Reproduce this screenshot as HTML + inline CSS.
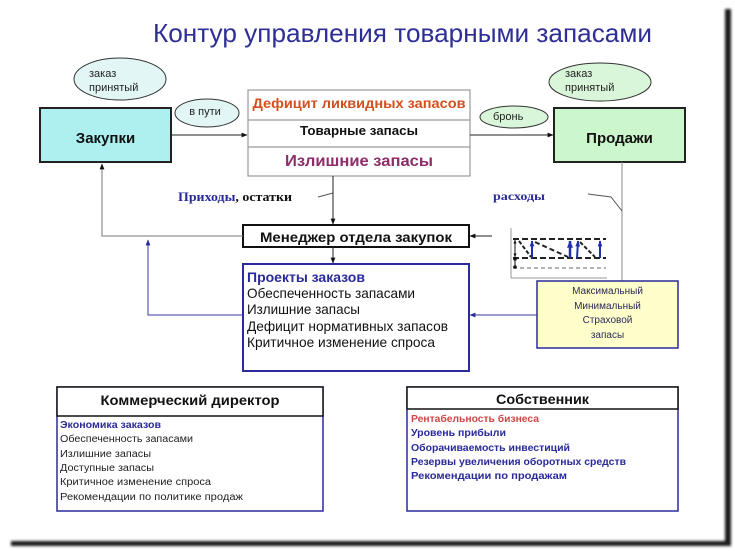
<!DOCTYPE html>
<html><head><meta charset="utf-8">
<style>
html,body{margin:0;padding:0;background:#fff;}
svg{display:block;}
text{font-family:"Liberation Sans","DejaVu Sans",sans-serif;}
.serif{font-family:"Liberation Serif","DejaVu Serif",serif;}
</style></head>
<body>
<svg width="735" height="551" viewBox="0 0 735 551" xmlns="http://www.w3.org/2000/svg">
<defs>
<filter id="bl" x="-50%" y="-50%" width="200%" height="200%"><feGaussianBlur stdDeviation="1.2"/></filter>
<marker id="ah" viewBox="0 0 10 10" refX="9" refY="5" markerWidth="6" markerHeight="6" orient="auto"><path d="M0,1 L10,5 L0,9 z" fill="#111"/></marker>
<marker id="ahb" viewBox="0 0 10 10" refX="9" refY="5" markerWidth="6" markerHeight="6" orient="auto"><path d="M0,1 L10,5 L0,9 z" fill="#2a2a9a"/></marker>
<marker id="ahs" viewBox="0 0 10 10" refX="9" refY="5" markerWidth="3" markerHeight="3" orient="auto"><path d="M0,1 L10,5 L0,9 z" fill="#2030b0"/></marker>
<marker id="ahk" viewBox="0 0 10 10" refX="9" refY="5" markerWidth="4" markerHeight="4" orient="auto"><path d="M0,1 L10,5 L0,9 z" fill="#111"/></marker>
</defs>
<rect width="735" height="551" fill="#fff"/>

<!-- frame shadow -->
<g filter="url(#bl)">
<rect x="725" y="9" width="6" height="537" fill="#1a1a1a"/>
<rect x="11" y="541" width="719" height="5" fill="#1a1a1a"/>
</g>

<!-- Title -->
<text x="153" y="42" font-size="26" fill="#2e2e96" textLength="499" lengthAdjust="spacingAndGlyphs">Контур управления товарными запасами</text>

<!-- Left ellipse -->
<ellipse cx="120" cy="79" rx="46" ry="21" fill="#e2f6f6" stroke="#333" stroke-width="1"/>
<text x="89" y="77" font-size="11" fill="#222">заказ</text>
<text x="89" y="91" font-size="11" fill="#222">принятый</text>

<!-- Закупки -->
<rect x="40" y="108" width="131" height="54" fill="#aef0f0" stroke="#222" stroke-width="2"/>
<text x="105.5" y="143" font-size="15" font-weight="bold" text-anchor="middle" fill="#111">Закупки</text>

<!-- в пути -->
<ellipse cx="207" cy="113" rx="32" ry="14" fill="#e2f6f6" stroke="#333" stroke-width="1"/>
<text x="205" y="115" font-size="11" text-anchor="middle" fill="#222">в пути</text>

<!-- arrow Закупки -> table -->
<line x1="171" y1="135" x2="247" y2="135" stroke="#222" stroke-width="1" marker-end="url(#ah)"/>

<!-- Table -->
<rect x="248" y="90" width="222" height="86" fill="#fff" stroke="#999" stroke-width="1.2"/>
<line x1="248" y1="120" x2="470" y2="120" stroke="#999" stroke-width="1.2"/>
<line x1="248" y1="147" x2="470" y2="147" stroke="#999" stroke-width="1.2"/>
<text x="359" y="108" font-size="14" font-weight="bold" text-anchor="middle" fill="#d25020" textLength="213" lengthAdjust="spacingAndGlyphs">Дефицит ликвидных запасов</text>
<text x="359" y="135" font-size="13" font-weight="bold" text-anchor="middle" fill="#111" textLength="118" lengthAdjust="spacingAndGlyphs">Товарные запасы</text>
<text x="359" y="166" font-size="16" font-weight="bold" text-anchor="middle" fill="#8e2d6a" textLength="148" lengthAdjust="spacingAndGlyphs">Излишние запасы</text>

<!-- arrow table -> Продажи -->
<line x1="470" y1="135" x2="553" y2="135" stroke="#222" stroke-width="1" marker-end="url(#ah)"/>

<!-- Right ellipse -->
<ellipse cx="600" cy="82" rx="51" ry="19" fill="#daf6da" stroke="#333" stroke-width="1"/>
<text x="565" y="77" font-size="11" fill="#222">заказ</text>
<text x="565" y="91" font-size="11" fill="#222">принятый</text>

<!-- бронь -->
<ellipse cx="514" cy="117" rx="34" ry="11" fill="#daf6da" stroke="#333" stroke-width="1"/>
<text x="493" y="120" font-size="11" fill="#222">бронь</text>

<!-- Продажи -->
<rect x="554" y="108" width="131" height="54" fill="#ccf6cc" stroke="#222" stroke-width="2"/>
<text x="619.5" y="143" font-size="15" font-weight="bold" text-anchor="middle" fill="#111">Продажи</text>

<!-- vertical line from Продажи -->
<line x1="622" y1="162" x2="622" y2="281" stroke="#888" stroke-width="1"/>
<polyline points="588,194 611,197 622,211" fill="none" stroke="#555" stroke-width="1"/>
<text x="493" y="200" font-size="12" font-weight="bold" fill="#2a2a9a" class="serif" textLength="52" lengthAdjust="spacingAndGlyphs">расходы</text>

<!-- Приходы -->
<text x="178" y="201" font-size="13" font-weight="bold" class="serif" fill="#2a2a9a" textLength="114" lengthAdjust="spacingAndGlyphs">Приходы<tspan fill="#111">, остатки</tspan></text>
<polyline points="318,197 333,193" fill="none" stroke="#555" stroke-width="1"/>

<!-- vertical from table to Менеджер -->
<line x1="333" y1="176" x2="333" y2="224" stroke="#222" stroke-width="1" marker-end="url(#ah)"/>

<!-- Менеджер -->
<rect x="243" y="225" width="226" height="22" fill="#fff" stroke="#111" stroke-width="2"/>
<text x="356" y="242" font-size="14" font-weight="bold" text-anchor="middle" fill="#111" textLength="192" lengthAdjust="spacingAndGlyphs">Менеджер отдела закупок</text>

<!-- gray feedback line to Закупки -->
<polyline points="243,236 102,236 102,164" fill="none" stroke="#777" stroke-width="1" marker-end="url(#ah)"/>

<!-- arrow Менеджер -> Проекты -->
<line x1="333" y1="247" x2="333" y2="263" stroke="#222" stroke-width="1" marker-end="url(#ah)"/>

<!-- Проекты -->
<rect x="243" y="264" width="226" height="107" fill="#fff" stroke="#2a2a9a" stroke-width="2"/>
<text x="247" y="282" font-size="14" font-weight="bold" fill="#2a2a9a">Проекты заказов</text>
<text x="247" y="298" font-size="14" fill="#111" textLength="168" lengthAdjust="spacingAndGlyphs">Обеспеченность запасами</text>
<text x="247" y="314" font-size="14" fill="#111" textLength="113" lengthAdjust="spacingAndGlyphs">Излишние запасы</text>
<text x="247" y="331" font-size="14" fill="#111" textLength="201" lengthAdjust="spacingAndGlyphs">Дефицит нормативных запасов</text>
<text x="247" y="347" font-size="14" fill="#111" textLength="188" lengthAdjust="spacingAndGlyphs">Критичное изменение спроса</text>

<!-- blue feedback line -->
<polyline points="243,315 148,315 148,240" fill="none" stroke="#3a3aa0" stroke-width="1" marker-end="url(#ahb)"/>

<!-- chart icon -->
<g>
<line x1="511" y1="228" x2="511" y2="278" stroke="#999" stroke-width="1"/>
<line x1="511" y1="278" x2="607" y2="278" stroke="#999" stroke-width="1"/>
<line x1="513" y1="239" x2="606" y2="239" stroke="#222" stroke-width="2" stroke-dasharray="6,3"/>
<line x1="513" y1="258" x2="606" y2="258" stroke="#222" stroke-width="2" stroke-dasharray="6,3"/>
<line x1="513" y1="268" x2="606" y2="268" stroke="#888" stroke-width="1.3" stroke-dasharray="4,3"/>
<line x1="515" y1="257" x2="515" y2="240" stroke="#111" stroke-width="1" marker-end="url(#ahk)"/>
<line x1="515" y1="240" x2="515" y2="257" stroke="#111" stroke-width="1" marker-end="url(#ahk)"/>
<line x1="515" y1="259" x2="515" y2="267" stroke="#111" stroke-width="1"/>
<circle cx="515" cy="259" r="1.8" fill="#111"/>
<circle cx="515" cy="267" r="1.8" fill="#111"/>
<line x1="532" y1="258" x2="532" y2="241" stroke="#2030b0" stroke-width="2" marker-end="url(#ahs)"/>
<line x1="519" y1="241" x2="531" y2="257" stroke="#222" stroke-width="2" stroke-dasharray="4,2"/>
<line x1="535" y1="242" x2="568" y2="257" stroke="#222" stroke-width="2" stroke-dasharray="5,3"/>
<line x1="570" y1="258" x2="570" y2="241" stroke="#2030b0" stroke-width="2.5" marker-end="url(#ahs)"/>
<line x1="577" y1="258" x2="578" y2="241" stroke="#2030b0" stroke-width="2" marker-end="url(#ahs)"/>
<line x1="580" y1="242" x2="595" y2="257" stroke="#222" stroke-width="2" stroke-dasharray="4,2"/>
<line x1="600" y1="258" x2="600" y2="241" stroke="#2030b0" stroke-width="2" marker-end="url(#ahs)"/>
</g>
<!-- arrow chart -> Менеджер -->
<line x1="492" y1="236" x2="470" y2="236" stroke="#222" stroke-width="1" marker-end="url(#ah)"/>

<!-- yellow box -->
<rect x="537" y="281" width="141" height="67" fill="#ffffcc" stroke="#2a2a9a" stroke-width="1.5"/>
<text x="607.5" y="294" font-size="10" text-anchor="middle" fill="#2a2a5a">Максимальный</text>
<text x="607.5" y="309" font-size="10" text-anchor="middle" fill="#2a2a5a">Минимальный</text>
<text x="607.5" y="323" font-size="10" text-anchor="middle" fill="#2a2a5a">Страховой</text>
<text x="607.5" y="338" font-size="10" text-anchor="middle" fill="#2a2a5a">запасы</text>

<!-- arrow yellow -> Проекты -->
<line x1="537" y1="315" x2="470" y2="315" stroke="#3a3aa0" stroke-width="1" marker-end="url(#ahb)"/>

<!-- Коммерческий директор -->
<rect x="57" y="387" width="266" height="124" fill="#fff" stroke="#2a2a9a" stroke-width="1.5"/>
<rect x="57" y="387" width="266" height="29" fill="#fff" stroke="#111" stroke-width="1.5"/>
<text x="190" y="405" font-size="14" font-weight="bold" text-anchor="middle" fill="#111" textLength="179" lengthAdjust="spacingAndGlyphs">Коммерческий директор</text>
<text x="60" y="428" font-size="10" font-weight="bold" fill="#2a2a9a" textLength="101" lengthAdjust="spacingAndGlyphs">Экономика заказов</text>
<text x="60" y="442" font-size="10" fill="#222" textLength="133" lengthAdjust="spacingAndGlyphs">Обеспеченность запасами</text>
<text x="60" y="457" font-size="10" fill="#222" textLength="91" lengthAdjust="spacingAndGlyphs">Излишние запасы</text>
<text x="60" y="471" font-size="10" fill="#222" textLength="94" lengthAdjust="spacingAndGlyphs">Доступные запасы</text>
<text x="60" y="485" font-size="10" fill="#222" textLength="151" lengthAdjust="spacingAndGlyphs">Критичное изменение спроса</text>
<text x="60" y="500" font-size="10" fill="#222" textLength="183" lengthAdjust="spacingAndGlyphs">Рекомендации по политике продаж</text>

<!-- Собственник -->
<rect x="407" y="387" width="271" height="124" fill="#fff" stroke="#2a2a9a" stroke-width="1.5"/>
<rect x="407" y="387" width="271" height="22" fill="#fff" stroke="#111" stroke-width="1.5"/>
<text x="542.5" y="404" font-size="14" font-weight="bold" text-anchor="middle" fill="#111" textLength="93" lengthAdjust="spacingAndGlyphs">Собственник</text>
<text x="411" y="422" font-size="10" font-weight="bold" fill="#d04545" textLength="128" lengthAdjust="spacingAndGlyphs">Рентабельность  бизнеса</text>
<text x="411" y="436" font-size="10" font-weight="bold" fill="#2a2a9a" textLength="95" lengthAdjust="spacingAndGlyphs">Уровень  прибыли</text>
<text x="411" y="451" font-size="10" font-weight="bold" fill="#2a2a9a" textLength="159" lengthAdjust="spacingAndGlyphs">Оборачиваемость  инвестиций</text>
<text x="411" y="465" font-size="10" font-weight="bold" fill="#2a2a9a" textLength="215" lengthAdjust="spacingAndGlyphs">Резервы  увеличения  оборотных средств</text>
<text x="411" y="479" font-size="10" font-weight="bold" fill="#2a2a9a" textLength="156" lengthAdjust="spacingAndGlyphs">Рекомендации  по  продажам</text>
</svg>
</body></html>
